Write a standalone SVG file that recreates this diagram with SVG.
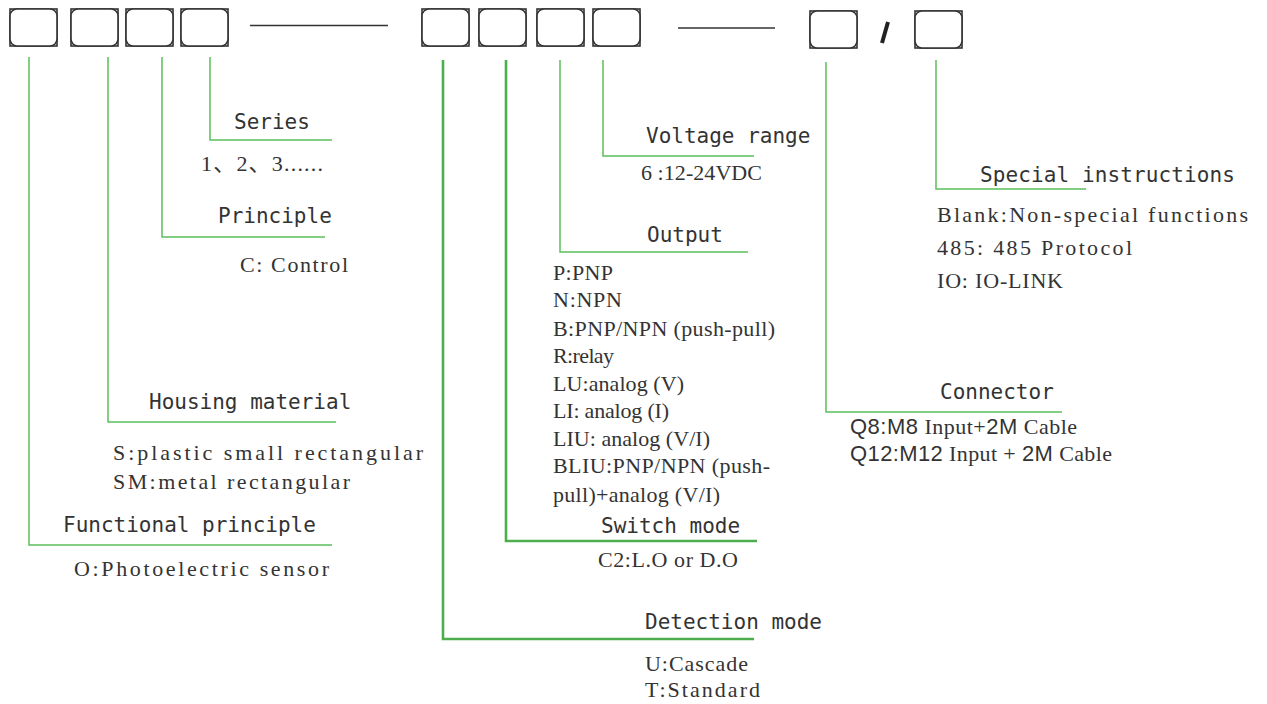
<svg xmlns="http://www.w3.org/2000/svg" xmlns:xlink="http://www.w3.org/1999/xlink" width="1267" height="704" viewBox="0 0 1267 704">
<style>
.h{font-family:"DejaVu Sans Mono","Liberation Mono",monospace;font-size:21px;fill:#333}
.m{font-family:"Liberation Serif","DejaVu Serif",serif;font-size:22px;fill:#333}
.s{font-family:"Liberation Serif","Noto Sans CJK SC",serif;font-size:22px;fill:#333}
.a{font-family:"Liberation Sans",sans-serif}
.g{fill:none;stroke:#5cbf5c;stroke-width:1.5}
.gt{fill:none;stroke:#4cae4c;stroke-width:2.6}
.bx{fill:#fff;stroke:#333;stroke-width:1.6}
.dash{stroke:#333;stroke-width:1.5}
</style>
<defs>
<g id="box">
<rect class="bx" x="0" y="0" width="47" height="37"/>
<rect class="bx" x="0" y="0" width="47" height="37" rx="7" ry="7"/>
</g>
</defs>
<rect width="1267" height="704" fill="#fff"/>

<g id="codes">
<g id="box1"><use xlink:href="#box" x="10" y="9"/></g>
<g id="box2"><use xlink:href="#box" x="71" y="9"/></g>
<g id="box3"><use xlink:href="#box" x="126" y="9"/></g>
<g id="box4"><use xlink:href="#box" x="181" y="9"/></g>
<line class="dash" x1="250" y1="25.5" x2="388" y2="25.5"/>
<g id="box5"><use xlink:href="#box" x="422" y="9"/></g>
<g id="box6"><use xlink:href="#box" x="479" y="9"/></g>
<g id="box7"><use xlink:href="#box" x="537" y="9"/></g>
<g id="box8"><use xlink:href="#box" x="593" y="9"/></g>
<line class="dash" x1="678" y1="28" x2="775" y2="28"/>
<g id="box9"><use xlink:href="#box" x="810" y="11"/></g>
<line x1="888" y1="22" x2="882" y2="43" stroke="#222" stroke-width="4"/>
<g id="box10"><use xlink:href="#box" x="915" y="11"/></g>
</g>

<g id="connectors">
<polyline class="g" points="29,57 29,545 332,545"/>
<polyline class="g" points="108,57 108,422 336,422"/>
<polyline class="g" points="162,57 162,237 325,237"/>
<polyline class="g" points="210,57 210,140 332,140"/>
<polyline class="gt" points="443,60 443,639 754,639"/>
<polyline class="gt" points="506,60 506,541 757,541"/>
<polyline class="g" points="560,60 560,252 748,252"/>
<polyline class="g" points="603,60 603,156 754,156"/>
<polyline class="g" points="826,62 826,412 1062,412"/>
<polyline class="g" points="936,60 936,189 1086,189"/>
</g>

<g id="series">
<text class="h" x="234" y="129">Series</text>
<text class="s" x="201" y="171" font-size="20" textLength="122">1、2、3......</text>
</g>

<g id="principle">
<text class="h" x="218" y="223">Principle</text>
<text class="m" x="240" y="272" textLength="108">C: Control</text>
</g>

<g id="housing">
<text class="h" x="149" y="409">Housing material</text>
<text class="m" x="113" y="460" textLength="310">S:plastic small rectangular</text>
<text class="m" x="113" y="489" textLength="237">SM:metal rectangular</text>
</g>

<g id="functional">
<text class="h" x="63" y="532">Functional principle</text>
<text class="m" x="74" y="576" textLength="255">O:Photoelectric sensor</text>
</g>

<g id="voltage">
<text class="h" x="646" y="143">Voltage range</text>
<text class="m" x="641" y="180" textLength="121">6 :12-24VDC</text>
</g>

<g id="output">
<text class="h" x="647" y="242">Output</text>
<text class="s" x="553" y="280" textLength="60">P:PNP</text>
<text class="s" x="553" y="307" textLength="69">N:NPN</text>
<text class="s" x="553" y="336" textLength="222">B:PNP/NPN (push-pull)</text>
<text class="s" x="553" y="363" textLength="61">R:relay</text>
<text class="s" x="553" y="391" textLength="131">LU:analog (V)</text>
<text class="s" x="553" y="418" textLength="116">LI: analog (I)</text>
<text class="s" x="553" y="446" textLength="157">LIU: analog (V/I)</text>
<text class="s" x="553" y="473" textLength="217">BLIU:PNP/NPN (push-</text>
<text class="s" x="553" y="502" textLength="167">pull)+analog (V/I)</text>
</g>

<g id="switch">
<text class="h" x="601" y="533">Switch mode</text>
<text class="s" x="598" y="567" textLength="140">C2:L.O or D.O</text>
</g>

<g id="detection">
<text class="h" x="645" y="629">Detection mode</text>
<text class="m" x="645" y="671" textLength="103">U:Cascade</text>
<text class="m" x="645" y="697" textLength="115">T:Standard</text>
</g>

<g id="connector">
<text class="h" x="940" y="399">Connector</text>
<text class="s" x="850" y="434" font-size="20" textLength="227"><tspan class="a">Q8:M8</tspan> Input+<tspan class="a">2M</tspan> Cable</text>
<text class="s" x="850" y="461" font-size="20" textLength="262"><tspan class="a">Q12:M12</tspan> Input + <tspan class="a">2M</tspan> Cable</text>
</g>

<g id="special">
<text class="h" x="980" y="182" textLength="255">Special instructions</text>
<text class="m" x="937" y="222" textLength="311">Blank:Non-special functions</text>
<text class="m" x="937" y="255" textLength="195">485: 485 Protocol</text>
<text class="m" x="937" y="288" textLength="126">IO: IO-LINK</text>
</g>
</svg>
